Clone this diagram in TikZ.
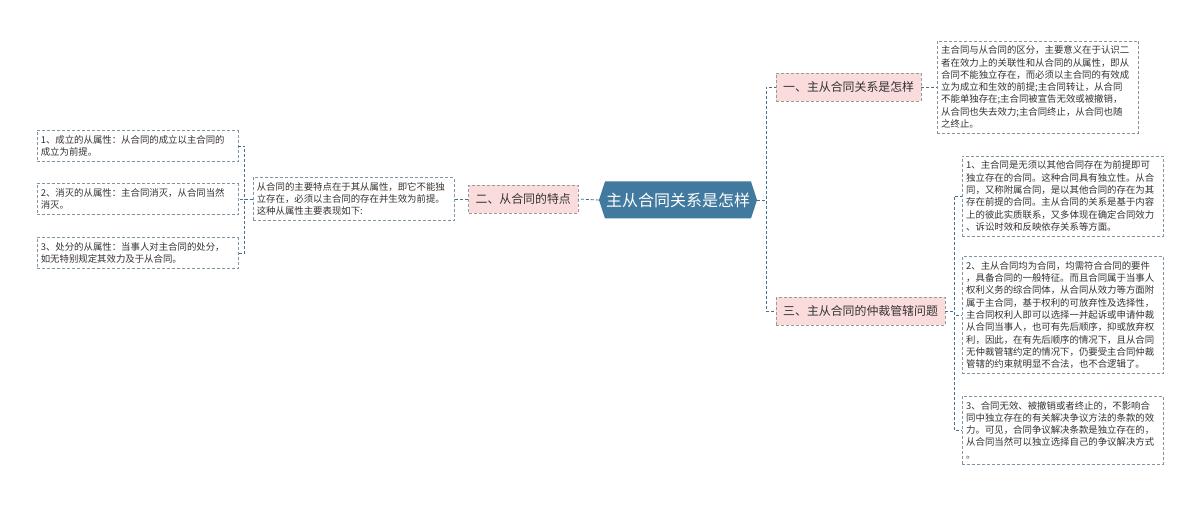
\documentclass[tikz,border=0pt]{standalone}
\usepackage{fontspec}
\setmainfont{Noto Sans CJK SC}
\usetikzlibrary{shapes.symbols}
\definecolor{rootblue}{HTML}{41799F}
\definecolor{branchpink}{HTML}{FADCDC}
\definecolor{branchgray}{HTML}{9A9A9A}
\definecolor{leafgray}{HTML}{7F96A6}
\definecolor{linkblue}{HTML}{45708F}

\begin{document}
\begin{tikzpicture}[x=1pt,y=-1pt,
	topic/.style ={signal, signal to=east and west, signal pointer angle=144, fill=rootblue, text=white, inner xsep=1pt, minimum height=37pt, font=\fontsize{16}{18}\selectfont},
	branch/.style ={draw=branchgray, dash pattern=on 3pt off 2pt, fill=branchpink, text=black!80, minimum height=28pt, inner xsep=7pt, font=\fontsize{11.9}{14}\selectfont},
	leaf/.style ={draw=leafgray, dash pattern=on 3pt off 2pt, text=black!80, align=left, text width=193pt, inner xsep=4pt, inner ysep=5pt, font=\fontsize{9.4}{12.3}\selectfont},
	link/.style ={draw=linkblue, dash pattern=on 3pt off 2pt, line width=0.8pt}]
		\path[use as bounding box, fill=white] (0,0) rectangle (1200,505);
		% centre and branches
		\node[topic] (root) at (678,200) {主从合同关系是怎样};
		\node[branch, anchor=west] (a1) at (776,87) {一、主从合同关系是怎样};
		\node[branch, anchor=east] (a2) at (578,199) {二、从合同的特点};
		\node[branch, anchor=west] (a3) at (776,311) {三、主从合同的仲裁管辖问题};
		% leaves
		\node[leaf, anchor=west] (b1) at (937,87) {主合同与从合同的区分，主要意义在于认识二\\者在效力上的关联性和从合同的从属性，即从\\合同不能独立存在，而必须以主合同的有效成\\立为成立和生效的前提;主合同转让，从合同\\不能单独存在;主合同被宣告无效或被撤销，\\从合同也失去效力;主合同终止，从合同也随\\之终止。};
		\node[leaf, anchor=east] (d1) at (454,199) {从合同的主要特点在于其从属性，即它不能独\\立存在，必须以主合同的存在并生效为前提。\\这种从属性主要表现如下:};
		\node[leaf, anchor=east] (e1) at (238,146) {1、成立的从属性：从合同的成立以主合同的\\成立为前提。};
		\node[leaf, anchor=east] (e2) at (238,199) {2、消灭的从属性：主合同消灭，从合同当然\\消灭。};
		\node[leaf, anchor=east] (e3) at (238,253) {3、处分的从属性：当事人对主合同的处分，\\如无特别规定其效力及于从合同。};
		\node[leaf, anchor=west] (c1) at (962,196) {1、主合同是无须以其他合同存在为前提即可\\独立存在的合同。这种合同具有独立性。从合\\同，又称附属合同，是以其他合同的存在为其\\存在前提的合同。主从合同的关系是基于内容\\上的彼此实质联系，又多体现在确定合同效力\\、诉讼时效和反映依存关系等方面。};
		\node[leaf, anchor=west] (c2) at (962,315) {2、主从合同均为合同，均需符合合同的要件\\，具备合同的一般特征。而且合同属于当事人\\权利义务的综合同体，从合同从效力等方面附\\属于主合同，基于权利的可放弃性及选择性，\\主合同权利人即可以选择一并起诉或申请仲裁\\从合同当事人，也可有先后顺序，抑或放弃权\\利，因此，在有先后顺序的情况下，且从合同\\无仲裁管辖约定的情况下，仍要受主合同仲裁\\管辖的约束就明显不合法，也不合逻辑了。};
		\node[leaf, anchor=west] (c3) at (962,430) {3、合同无效、被撤销或者终止的，不影响合\\同中独立存在的有关解决争议方法的条款的效\\力。可见，合同争议解决条款是独立存在的，\\从合同当然可以独立选择自己的争议解决方式\\。};
		% connectors
		\draw[link] (root.east) --++(9,0) |- (a1.west);
		\draw[link] (root.east) --++(9,0) |- (a3.west);
		\draw[link] (root.west) -- (a2.east);
		\draw[link] (a1.east) -- (b1.west);
		\draw[link] (a2.west) -- (d1.east);
		\draw[link] (d1.west) --++(-8,0) |- (e1.east);
		\draw[link] (d1.west) --++(-8,0) |- (e2.east);
		\draw[link] (d1.west) --++(-8,0) |- (e3.east);
		\draw[link] (a3.east) --++(9,0) |- (c1.west);
		\draw[link] (a3.east) --++(9,0) |- (c2.west);
		\draw[link] (a3.east) --++(9,0) |- (c3.west);
	\end{tikzpicture}
\end{document}
